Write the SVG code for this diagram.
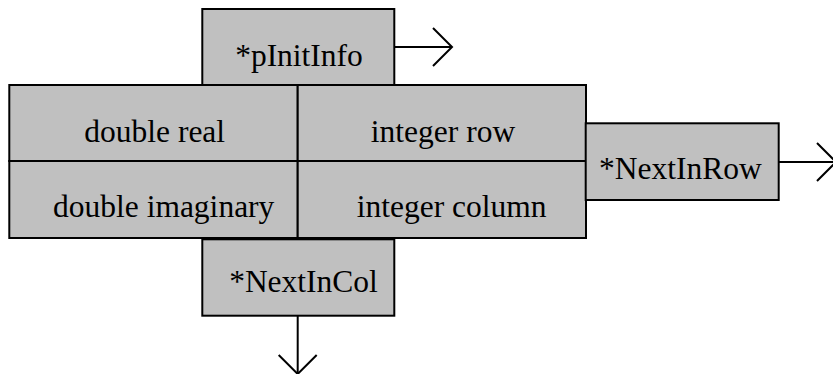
<svg xmlns="http://www.w3.org/2000/svg" width="833" height="374" viewBox="0 0 833 374">
  <defs>
    <style>
      .box { fill: #c0c0c0; stroke: #000; stroke-width: 2; }
      .lbl { font-family: 'Liberation Serif', 'Times New Roman', serif; font-size: 31.5px; fill: #000; text-anchor: middle; }
      .conn { stroke: #000; stroke-width: 2; fill: none; }
    </style>
    <marker id="chev" markerUnits="userSpaceOnUse" markerWidth="24" markerHeight="44" viewBox="0 0 24 44" refX="20" refY="21" orient="auto" overflow="visible">
      <path d="M1,2 L20,21 L1,40" fill="none" stroke="#000" stroke-width="2"/>
    </marker>
  </defs>
  <rect width="833" height="374" fill="#fff"/>

  <g id="pInitInfo">
    <rect class="box" x="202.3" y="9" width="192" height="76.7"/>
    <text class="lbl" x="299" y="66">*pInitInfo</text>
  </g>

  <g id="doubleReal">
    <rect class="box" x="9.3" y="85" width="288.4" height="76"/>
    <text class="lbl" x="154.7" y="141.7">double real</text>
  </g>
  <g id="integerRow">
    <rect class="box" x="297.7" y="85" width="288.3" height="76"/>
    <text class="lbl" x="443" y="141.7">integer row</text>
  </g>
  <g id="doubleImaginary">
    <rect class="box" x="9.3" y="161" width="288.4" height="77"/>
    <text class="lbl" x="163.7" y="216.7">double imaginary</text>
  </g>
  <g id="integerColumn">
    <rect class="box" x="297.7" y="161" width="288.3" height="77"/>
    <text class="lbl" x="451.7" y="216.7">integer column</text>
  </g>

  <g id="NextInRow">
    <rect class="box" x="585.7" y="123.3" width="193" height="76.7"/>
    <text class="lbl" x="680.3" y="179.3">*NextInRow</text>
  </g>

  <g id="NextInCol">
    <rect class="box" x="202.3" y="239.3" width="192" height="76.4"/>
    <text class="lbl" x="303.5" y="292.3">*NextInCol</text>
  </g>

  <g id="connectors">
    <line class="conn" x1="394.3" y1="47" x2="452" y2="47" marker-end="url(#chev)"/>
    <line class="conn" x1="778.7" y1="162" x2="836" y2="162" marker-end="url(#chev)"/>
    <line class="conn" x1="297.7" y1="315.7" x2="297.7" y2="374" marker-end="url(#chev)"/>
  </g>
</svg>
